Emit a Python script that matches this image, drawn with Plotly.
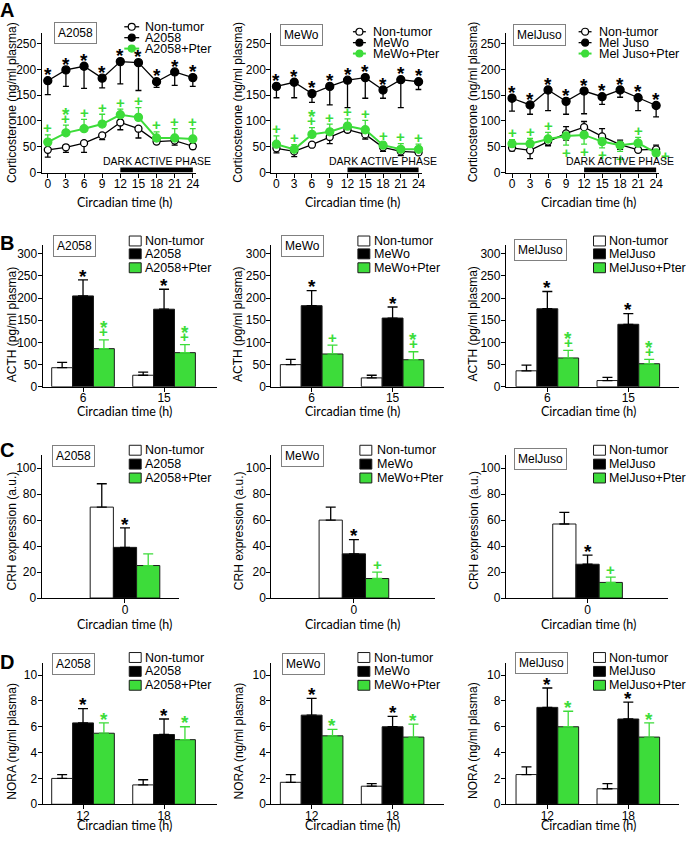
import plotly.graph_objects as go

W, H = 686, 844
GREEN = '#3ddc3a'
AXF = 'Arial, "Liberation Sans", Helvetica, sans-serif'
TTF = 'Lato, "Open Sans", sans-serif'

# ---------------- Panel A : corticosterone time course ----------------
time_h = [0, 3, 6, 9, 12, 15, 18, 21, 24]
dark_phase = [12, 24]
dark_label = 'DARK ACTIVE PHASE'

cort_a2058_nt = [44, 49, 57, 72, 97, 85, 60, 62, 51]
cort_a2058_nt_dn = [14, 10, 18, 8, 14, 18, 4, 9, 5]
cort_a2058_tu = [178, 199, 206, 183, 215, 213, 176, 195, 184]
cort_a2058_tu_dn = [27, 32, 43, 19, 43, 54, 11, 26, 17]
cort_a2058_pt = [59, 77, 85, 94, 112, 107, 67, 67, 65]
cort_a2058_pt_up = [14, 15, 18, 19, 11, 19, 12, 18, 20]
cort_a2058_tu_sig = ['*', '*', '*', '*', '*', '*', '*', '*', '*']
cort_a2058_pt_sig = ['+', '+*', '+', '+', '+', '+', '+', '+', '+']

cort_mewo_nt = [47, 41, 54, 69, 83, 74, 49, 41, 39]
cort_mewo_nt_dn = [9, 10, 2, 13, 5, 9, 8, 8, 1]
cort_mewo_tu = [167, 175, 153, 167, 179, 184, 160, 180, 176]
cort_mewo_tu_dn = [22, 30, 17, 36, 53, 40, 16, 54, 15]
cort_mewo_pt = [55, 45, 74, 79, 90, 83, 53, 45, 45]
cort_mewo_pt_up = [16, 9, 13, 15, 14, 18, 6, 11, 10]
cort_mewo_tu_sig = ['*', '*', '*', '*', '*', '*', '*', '*', '*']
cort_mewo_pt_sig = ['+', '+', '+*', '+', '+', '+', '+', '+', '+']

cort_meljuso_nt = [48, 43, 60, 76, 88, 70, 54, 44, 45]
cort_meljuso_nt_err = [6, 16, 8, 13, 11, 15, 9, 5, 8]
cort_meljuso_tu = [144, 131, 160, 138, 158, 147, 160, 145, 130]
cort_meljuso_tu_dn = [25, 18, 40, 25, 44, 15, 14, 25, 22]
cort_meljuso_pt = [56, 56, 65, 71, 73, 60, 53, 57, 38]
cort_meljuso_pt_up = [8, 10, 13, 0, 0, 0, 0, 11, 0]
cort_meljuso_pt_dn = [0, 0, 0, 18, 18, 12, 12, 0, 4]
cort_meljuso_tu_sig = ['*', '*', '*', '*', '*', '*', '*', '*', '*']
cort_meljuso_pt_sig = ['+', '+', '+', '+', '+', '+', '+', '+', '+']
cort_meljuso_pt_side = ['up', 'up', 'up', 'down', 'down', 'down', 'down', 'up', 'right']

# ---------------- Panel B : ACTH ----------------
acth_time = ['6', '15']
acth_a2058_nt = [43, 26]
acth_a2058_nt_err = [12, 7]
acth_a2058_tu = [205, 175]
acth_a2058_tu_err = [36, 45]
acth_a2058_pt = [86, 77]
acth_a2058_pt_err = [20, 18]
acth_a2058_tu_sig = ['*', '*']
acth_a2058_pt_sig = ['+*', '+*']

acth_mewo_nt = [50, 20]
acth_mewo_nt_err = [12, 6]
acth_mewo_tu = [183, 155]
acth_mewo_tu_err = [34, 25]
acth_mewo_pt = [74, 61]
acth_mewo_pt_err = [20, 18]
acth_mewo_tu_sig = ['*', '*']
acth_mewo_pt_sig = ['+', '+*']

acth_meljuso_nt = [36, 14]
acth_meljuso_nt_err = [13, 7]
acth_meljuso_tu = [176, 141]
acth_meljuso_tu_err = [39, 24]
acth_meljuso_pt = [65, 52]
acth_meljuso_pt_err = [17, 10]
acth_meljuso_tu_sig = ['*', '*']
acth_meljuso_pt_sig = ['+*', '+*']

# ---------------- Panel C : CRH ----------------
crh_time = ['0']
crh_a2058_nt = [70]
crh_a2058_nt_err = [18]
crh_a2058_tu = [39]
crh_a2058_tu_err = [15]
crh_a2058_pt = [25]
crh_a2058_pt_err = [9]
crh_a2058_tu_sig = ['*']
crh_a2058_pt_sig = ['']

crh_mewo_nt = [60]
crh_mewo_nt_err = [10]
crh_mewo_tu = [34]
crh_mewo_tu_err = [11]
crh_mewo_pt = [15]
crh_mewo_pt_err = [5]
crh_mewo_tu_sig = ['*']
crh_mewo_pt_sig = ['+']

crh_meljuso_nt = [57]
crh_meljuso_nt_err = [9]
crh_meljuso_tu = [26]
crh_meljuso_tu_err = [7]
crh_meljuso_pt = [12]
crh_meljuso_pt_err = [4]
crh_meljuso_tu_sig = ['*']
crh_meljuso_pt_sig = ['+']

# ---------------- Panel D : noradrenaline ----------------
nora_time = ['12', '18']
nora_a2058_nt = [2.0, 1.5]
nora_a2058_nt_err = [0.3, 0.4]
nora_a2058_tu = [6.3, 5.4]
nora_a2058_tu_err = [1.1, 1.2]
nora_a2058_pt = [5.5, 5.0]
nora_a2058_pt_err = [0.8, 1.0]
nora_a2058_tu_sig = ['*', '*']
nora_a2058_pt_sig = ['*', '*']

nora_mewo_nt = [1.7, 1.4]
nora_mewo_nt_err = [0.6, 0.2]
nora_mewo_tu = [6.9, 6.0]
nora_mewo_tu_err = [1.3, 0.8]
nora_mewo_pt = [5.3, 5.2]
nora_mewo_pt_err = [0.5, 1.0]
nora_mewo_tu_sig = ['*', '*']
nora_mewo_pt_sig = ['*', '*']

nora_meljuso_nt = [2.3, 1.2]
nora_meljuso_nt_err = [0.6, 0.4]
nora_meljuso_tu = [7.5, 6.6]
nora_meljuso_tu_err = [1.5, 1.3]
nora_meljuso_pt = [6.0, 5.2]
nora_meljuso_pt_err = [1.2, 1.1]
nora_meljuso_tu_sig = ['*', '*']
nora_meljuso_pt_sig = ['*', '*']

cell_lines = ['A2058', 'MeWo', 'MelJuso']
legend_a = [['Non-tumor', 'A2058', 'A2058+Pter'],
            ['Non-tumor', 'MeWo', 'MeWo+Pter'],
            ['Non-tumor', 'Mel Juso', 'Mel Juso+Pter']]
legend_bar = [['Non-tumor', 'A2058', 'A2058+Pter'],
              ['Non-tumor', 'MeWo', 'MeWo+Pter'],
              ['Non-tumor', 'MelJuso', 'MelJuso+Pter']]
y_titles = ['Corticosterone (ng/ml plasma)', 'ACTH (pg/ml plasma)',
            'CRH expression (a.u.)', 'NORA (ng/ml plasma)']
x_title = 'Circadian time (h)'

# ---------------- figure scaffolding ----------------
BARGAP = 0.227
BW = (1 - BARGAP) / 3

fig = go.Figure()
layout = dict(width=W, height=H, autosize=False, margin=dict(l=0, r=0, t=0, b=0),
              paper_bgcolor='white', plot_bgcolor='rgba(0,0,0,0)', showlegend=False,
              barmode='group', bargap=BARGAP, bargroupgap=0,
              font=dict(family=AXF, size=12, color='black'))
annotations = []
shapes = []


def px(x):
    return x / W


def py(y):
    return 1 - y / H


def ids(k):
    s = '' if k == 1 else str(k)
    return 'x' + s, 'y' + s, 'xaxis' + s, 'yaxis' + s


def setup_axes(k, xdom, ydom, xrange, yrange, dtick, xextra):
    xr, yr, xk, yk = ids(k)
    common = dict(showline=True, linecolor='black', linewidth=1.3, ticks='outside',
                  ticklen=4, tickwidth=1.3, tickcolor='black', showgrid=False,
                  zeroline=False, fixedrange=True,
                  tickfont=dict(family=AXF, size=12, color='black'))
    layout[xk] = dict(domain=[px(xdom[0]), px(xdom[1])], range=xrange, anchor=yr,
                      ticklabelstandoff=-4, **common, **xextra)
    layout[yk] = dict(domain=[py(ydom[1]), py(ydom[0])], range=yrange, anchor=xr,
                      tick0=0, dtick=dtick, ticklabelstandoff=-2, **common)


MARK_SIZE = {'*': 19, '+': 15}
MARK_CORR = {'*': 4.2, '+': 0}


def mark(k, x, y, ch, color, yshift, xshift=0):
    xr, yr, _, _ = ids(k)
    annotations.append(dict(xref=xr, yref=yr, x=x, y=y, text='<b>' + ch + '</b>',
                            showarrow=False, xanchor='center', yanchor='middle',
                            yshift=yshift - MARK_CORR[ch], xshift=xshift,
                            font=dict(family=AXF, size=MARK_SIZE[ch], color=color)))


def stack(k, x, y, seq, color, base, direction=1, step=8, xshift=0):
    for j, ch in enumerate(seq):
        mark(k, x, y, ch, color, direction * (base + j * step), xshift)


def add_line(k, y, up, dn, color, fill, size, lw, name):
    xr, yr, _, _ = ids(k)
    fig.add_trace(go.Scatter(
        x=time_h, y=y, name=name, mode='lines+markers', xaxis=xr, yaxis=yr,
        line=dict(color=color, width=lw),
        marker=dict(size=size, color=fill, line=dict(color=color, width=1.3)),
        error_y=dict(type='data', symmetric=False, array=up, arrayminus=dn,
                     color=color, thickness=1.3, width=3),
        cliponaxis=False, showlegend=False))


def add_bars(k, cats, vals, errs, fill, err_color, name):
    xr, yr, _, _ = ids(k)
    fig.add_trace(go.Bar(
        x=cats, y=vals, name=name, xaxis=xr, yaxis=yr,
        marker=dict(color=fill, line=dict(color='#1a1a1a', width=1)),
        error_y=dict(type='data', symmetric=False, array=errs,
                     arrayminus=[0] * len(errs), color=err_color, thickness=1.3, width=5),
        showlegend=False))


def text_px(x, y, text, size=12, family=AXF, angle=0, anchor='center', weight=None):
    t = '<b>' + text + '</b>' if weight == 'bold' else text
    annotations.append(dict(xref='paper', yref='paper', x=px(x), y=py(y), text=t,
                            showarrow=False, xanchor=anchor, yanchor='middle',
                            textangle=angle, font=dict(family=family, size=size, color='black')))


def box_label(cx, cy, text):
    annotations.append(dict(xref='paper', yref='paper', x=px(cx), y=py(cy), text=text,
                            showarrow=False, xanchor='center', yanchor='middle',
                            bordercolor='#808080', borderwidth=1, borderpad=3, bgcolor='white',
                            font=dict(family=AXF, size=12, color='black')))


def legend_lines(xs0, xs1, xt, ys, labels):
    styles = [('black', 'white', 1.3), ('black', 'black', 1.3), (GREEN, GREEN, 2)]
    for (lc, fc, lw), y, lab in zip(styles, ys, labels):
        shapes.append(dict(type='line', xref='paper', yref='paper', x0=px(xs0), x1=px(xs1),
                           y0=py(y), y1=py(y), line=dict(color=lc, width=lw)))
        cx, r = (xs0 + xs1) / 2, 3.5
        shapes.append(dict(type='circle', xref='paper', yref='paper', x0=px(cx - r),
                           x1=px(cx + r), y0=py(y + r), y1=py(y - r), fillcolor=fc,
                           line=dict(color=lc, width=1.2)))
        text_px(xt, y, lab, anchor='left', size=12.5)


def legend_bars(xs0, xt, ys, labels):
    fills = ['white', 'black', GREEN]
    for fc, y, lab in zip(fills, ys, labels):
        shapes.append(dict(type='rect', xref='paper', yref='paper', x0=px(xs0), x1=px(xs0 + 12),
                           y0=py(y + 5), y1=py(y - 5), fillcolor=fc,
                           line=dict(color='#1a1a1a', width=1)))
        text_px(xt, y, lab, anchor='left', size=12.5)


# ---------------- Row A ----------------
a_xdom = [(42, 197), (273, 424), (509, 663)]
a_xrng = [[-1, 24.5], [-0.85, 24.5], [-1, 24.5]]
a_ydom = (33, 174)
a_data = [
    (cort_a2058_nt, [0] * 9, cort_a2058_nt_dn, cort_a2058_tu, cort_a2058_tu_dn,
     cort_a2058_pt, cort_a2058_pt_up, [0] * 9, cort_a2058_tu_sig, cort_a2058_pt_sig, ['up'] * 9),
    (cort_mewo_nt, [0] * 9, cort_mewo_nt_dn, cort_mewo_tu, cort_mewo_tu_dn,
     cort_mewo_pt, cort_mewo_pt_up, [0] * 9, cort_mewo_tu_sig, cort_mewo_pt_sig, ['up'] * 9),
    (cort_meljuso_nt, cort_meljuso_nt_err, cort_meljuso_nt_err, cort_meljuso_tu,
     cort_meljuso_tu_dn, cort_meljuso_pt, cort_meljuso_pt_up, cort_meljuso_pt_dn,
     cort_meljuso_tu_sig, cort_meljuso_pt_sig, cort_meljuso_pt_side),
]
for c in range(3):
    k = 1 + c
    setup_axes(k, a_xdom[c], a_ydom, a_xrng[c], [0, 271], 50,
               dict(tickmode='array', tickvals=time_h))
    nt, nt_up, nt_dn, tu, tu_dn, pt, pt_up, pt_dn, tu_sig, pt_sig, side = a_data[c]
    names = legend_a[c]
    add_line(k, nt, nt_up, nt_dn, 'black', 'white', 7, 1.3, names[0])
    add_line(k, tu, [0] * 9, tu_dn, 'black', 'black', 8, 1.3, names[1])
    add_line(k, pt, pt_up, pt_dn, GREEN, GREEN, 8, 2, names[2])
    for i, t in enumerate(time_h):
        stack(k, t, tu[i], tu_sig[i], 'black', 10)
        if side[i] == 'up':
            stack(k, t, pt[i] + pt_up[i], pt_sig[i], GREEN, 7)
        elif side[i] == 'down':
            stack(k, t, pt[i] - pt_dn[i], pt_sig[i], GREEN, 7, direction=-1)
        else:
            stack(k, t, pt[i], pt_sig[i], GREEN, -3, xshift=9)
    xr, yr, _, _ = ids(k)
    shapes.append(dict(type='rect', xref=xr, yref=yr, x0=dark_phase[0], x1=dark_phase[1],
                       ysizemode='pixel', yanchor=0, y0=0, y1=5, fillcolor='black',
                       line=dict(width=0), layer='above'))
    annotations.append(dict(xref=xr, yref=yr, x=sum(dark_phase) / 2, y=0, text=dark_label,
                            showarrow=False, xanchor='center', yanchor='bottom', yshift=4,
                            font=dict(family=AXF, size=10.5, color='black')))

legend_lines(125, 140, 144, [27, 38, 49], legend_a[0])
legend_lines(355, 368, 373, [32, 43, 54], legend_a[1])
legend_lines(582, 595, 601, [32, 43, 54], legend_a[2])
box_label(75.5, 33.5, cell_lines[0])
box_label(303.5, 35, cell_lines[1])
box_label(543, 35.5, cell_lines[2])

# ---------------- Bar rows ----------------
bd_xdom = [(43, 218), (273, 447), (509, 683)]
bd_xrng = [[-0.497, 1.65], [-0.497, 1.64], [-0.51, 1.626]]
c_xdom = [(42, 180), (273, 438), (509, 672)]
c_xrng = [[-0.924, 0.599], [-0.916, 0.905], [-0.905, 0.894]]

bar_rows = [
    dict(ydom=(247, 390), yr=[0, 320], dt=50, cats=acth_time, xdom=bd_xdom, xrng=bd_xrng,
         data=[(acth_a2058_nt, acth_a2058_nt_err, acth_a2058_tu, acth_a2058_tu_err,
                acth_a2058_pt, acth_a2058_pt_err, acth_a2058_tu_sig, acth_a2058_pt_sig),
               (acth_mewo_nt, acth_mewo_nt_err, acth_mewo_tu, acth_mewo_tu_err,
                acth_mewo_pt, acth_mewo_pt_err, acth_mewo_tu_sig, acth_mewo_pt_sig),
               (acth_meljuso_nt, acth_meljuso_nt_err, acth_meljuso_tu, acth_meljuso_tu_err,
                acth_meljuso_pt, acth_meljuso_pt_err, acth_meljuso_tu_sig, acth_meljuso_pt_sig)]),
    dict(ydom=(459, 603), yr=[0, 110], dt=20, cats=crh_time, xdom=c_xdom, xrng=c_xrng,
         data=[(crh_a2058_nt, crh_a2058_nt_err, crh_a2058_tu, crh_a2058_tu_err,
                crh_a2058_pt, crh_a2058_pt_err, crh_a2058_tu_sig, crh_a2058_pt_sig),
               (crh_mewo_nt, crh_mewo_nt_err, crh_mewo_tu, crh_mewo_tu_err,
                crh_mewo_pt, crh_mewo_pt_err, crh_mewo_tu_sig, crh_mewo_pt_sig),
               (crh_meljuso_nt, crh_meljuso_nt_err, crh_meljuso_tu, crh_meljuso_tu_err,
                crh_meljuso_pt, crh_meljuso_pt_err, crh_meljuso_tu_sig, crh_meljuso_pt_sig)]),
    dict(ydom=(669, 811), yr=[0, 10.9], dt=2, cats=nora_time, xdom=bd_xdom, xrng=bd_xrng,
         data=[(nora_a2058_nt, nora_a2058_nt_err, nora_a2058_tu, nora_a2058_tu_err,
                nora_a2058_pt, nora_a2058_pt_err, nora_a2058_tu_sig, nora_a2058_pt_sig),
               (nora_mewo_nt, nora_mewo_nt_err, nora_mewo_tu, nora_mewo_tu_err,
                nora_mewo_pt, nora_mewo_pt_err, nora_mewo_tu_sig, nora_mewo_pt_sig),
               (nora_meljuso_nt, nora_meljuso_nt_err, nora_meljuso_tu, nora_meljuso_tu_err,
                nora_meljuso_pt, nora_meljuso_pt_err, nora_meljuso_tu_sig, nora_meljuso_pt_sig)]),
]

for r, row in enumerate(bar_rows):
    for c in range(3):
        k = 4 + r * 3 + c
        setup_axes(k, row['xdom'][c], row['ydom'], row['xrng'][c], row['yr'], row['dt'],
                   dict(type='category'))
        nt, nte, tu, tue, pt, pte, tsig, psig = row['data'][c]
        names = legend_bar[c]
        add_bars(k, row['cats'], nt, nte, 'white', 'black', names[0])
        add_bars(k, row['cats'], tu, tue, 'black', 'black', names[1])
        add_bars(k, row['cats'], pt, pte, GREEN, GREEN, names[2])
        for i in range(len(row['cats'])):
            stack(k, i, tu[i] + tue[i], tsig[i], 'black', 8)
            stack(k, i + BW, pt[i] + pte[i], psig[i], GREEN, 8)

# legends & labels for bar rows
leg_ys = [[243, 256, 270], [454, 468, 482], [663, 677, 691]]
leg_sq = [[(130, 144), (360, 374), (597, 611)],
          [(130, 144), (362, 377), (597, 611)],
          [(130, 144), (360, 374), (597, 611)]]
box_pos = [[(75, 248), (304.5, 248), (544, 252)],
           [(73.5, 459.5), (304.5, 459.5), (544, 462.5)],
           [(74, 670), (305, 670), (544.5, 669)]]
for r in range(3):
    for c in range(3):
        legend_bars(leg_sq[r][c][0], leg_sq[r][c][1], leg_ys[r], legend_bar[c])
        box_label(box_pos[r][c][0], box_pos[r][c][1], cell_lines[c])

# axis titles
ytitle_x = [12, 240, 476]
ytitle_y = [103, 327, 535, 747]
xtitle_y = [204, 415, 630, 832]
xtitle_x = [125, 355, 592]
for r in range(4):
    for c in range(3):
        text_px(ytitle_x[c], ytitle_y[r], y_titles[r], size=12, angle=-90)
        text_px(xtitle_x[c], xtitle_y[r], x_title, size=12.5, family=TTF)

# panel letters
for letter, yy in zip(['A', 'B', 'C', 'D'], [10, 245, 454, 668]):
    text_px(7, yy, letter, size=20, weight='bold')

layout['annotations'] = annotations
layout['shapes'] = shapes
fig.update_layout(**layout)
fig.write_html('out.html', config={'displayModeBar': False},
               post_script="document.body.style.margin='0px';document.body.style.overflow='hidden';")
